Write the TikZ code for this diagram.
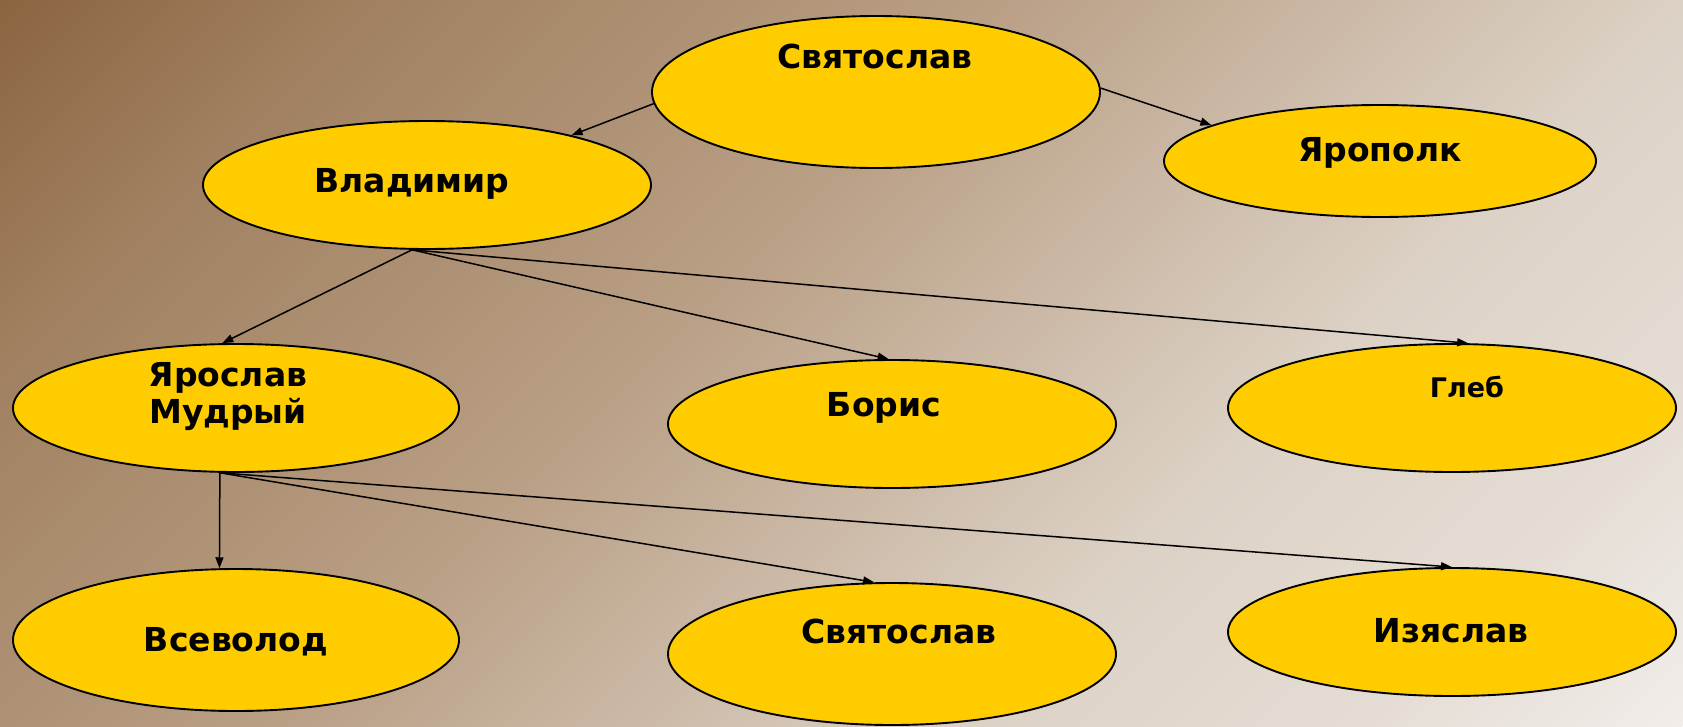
\documentclass[tikz,border=0pt]{standalone}
\usepackage{fontspec}
\setmainfont{DejaVu Sans}
\usetikzlibrary{arrows.meta,shapes.geometric}
\definecolor{bgA}{RGB}{139,100,64}
\definecolor{bgB}{RGB}{160,128,96}
\definecolor{bgC}{RGB}{186,160,134}
\definecolor{bgD}{RGB}{220,209,197}
\definecolor{bgE}{RGB}{229,221,213}
\definecolor{bgF}{RGB}{241,237,233}
\definecolor{gold}{RGB}{255,204,0}
\pgfdeclarehorizontalshading{bgshade}{100bp}{color(0bp)=(bgA); color(25bp)=(bgA); color(32.5bp)=(bgB); color(46.1bp)=(bgC); color(59.9bp)=(bgD); color(68.4bp)=(bgE); color(75bp)=(bgF); color(100bp)=(bgF)}
\tikzset{
  person/.style={ellipse,draw=black,line width=1.9pt,fill=gold,inner sep=0pt},
  pname/.style={font=\bfseries\fontsize{33}{37}\selectfont,align=center,inner sep=0pt,text=black},
  link/.style={line width=1.5pt,-{Triangle[length=11pt,width=8pt]}}
}
\begin{document}
\begin{tikzpicture}[x=1pt,y=-1pt]
\useasboundingbox (0,0) rectangle (1683,726);
\begin{scope}
\clip (0,0) rectangle (1683,726);
\begin{scope}[transform canvas={rotate=-45}]
\shade[shading=bgshade] (0,-1300) rectangle (1703,1300);
\end{scope}
\end{scope}
% ellipses
\node[person,minimum width=448pt,minimum height=152pt] (sv) at (876,92) {};
\node[person,minimum width=432pt,minimum height=112pt] (ya) at (1380,161) {};
\node[person,minimum width=448pt,minimum height=128pt] (vl) at (427,185) {};
\node[person,minimum width=446pt,minimum height=128pt] (yr) at (236,408) {};
\node[person,minimum width=448pt,minimum height=128pt] (bo) at (892,424) {};
\node[person,minimum width=448pt,minimum height=128pt] (gl) at (1452,408) {};
\node[person,minimum width=446pt,minimum height=142pt] (vs) at (236,640) {};
\node[person,minimum width=448pt,minimum height=142pt] (sv2) at (892,654) {};
\node[person,minimum width=448pt,minimum height=128pt] (iz) at (1452,632) {};
% texts
\node[pname] (tsv) at (875,56) {Святослав};
\node[pname] (tya) at (1380,153) {Ярополк};
\node[pname] (tvl) at (412,184) {Владимир};
\node[pname] (tyr) at (228,397) {Ярослав\\Мудрый};
\node[pname] (tbo) at (884,408) {Борис};
\node[pname,font=\bfseries\fontsize{27}{30}\selectfont] (tgl) at (1467,387) {Глеб};
\node[pname] (tvs) at (236,642) {Всеволод};
\node[pname] (tsv2) at (899,631) {Святослав};
\node[pname] (tiz) at (1451,631) {Изяслав};
% connectors
\draw[link] (sv.183) -- (vl.19);
\draw[link] (sv.1) -- (ya.168);
\draw[link] (vl.257) -- (yr.102);
\draw[link] (vl.257) -- (bo.93);
\draw[link] (vl.257) -- (gl.76);
\draw[link] (yr.256) -- (vs.103);
\draw[link] (yr.256) -- (sv2.104);
\draw[link] (yr.256) -- (iz.90);
\end{tikzpicture}
\end{document}
